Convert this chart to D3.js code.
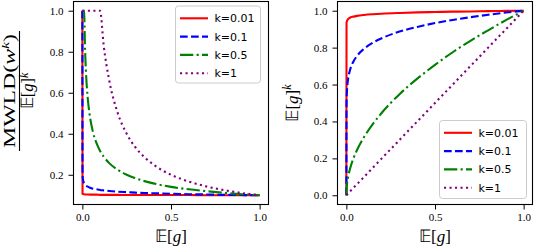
<!DOCTYPE html>
<html>
<head>
<meta charset="utf-8">
<script src="https://cdn.jsdelivr.net/npm/d3@7"></script>
<style>
  html, body { margin: 0; padding: 0; background: #fff; }
  svg { display: block; }
  .tick text { font-family: "Liberation Serif", serif; font-size: 11px; fill: #000; }
  .tick line, .domain { stroke: #000; }
  .math { font-family: "Liberation Serif", serif; fill: #000; }
  .leg { font-family: "DejaVu Sans", sans-serif; font-size: 11px; fill: #000; }
</style>
</head>
<body>
<svg id="chart" width="534" height="252"></svg>
<script>
// ---- data ----
const labels = ["k=0.01", "k=0.1", "k=0.5", "k=1"];

// left panel: MWLD(w^k) / E[g]^k
const xLeft = [0, 0.001, 0.003, 0.01, 0.015, 0.02, 0.03, 0.04, 0.06, 0.08, 0.1, 0.12, 0.15, 0.2, 0.25, 0.3, 0.35, 0.4, 0.5, 0.6, 0.7, 0.8, 0.9, 1.0];
const leftK001 = [1.0, 0.107, 0.106, 0.105, 0.104, 0.104, 0.104, 0.103, 0.103, 0.103, 0.102, 0.102, 0.102, 0.102, 0.101, 0.101, 0.101, 0.101, 0.101, 0.101, 0.100, 0.100, 0.100, 0.100];
const leftK01  = [1.0, 0.200, 0.179, 0.158, 0.152, 0.148, 0.142, 0.138, 0.132, 0.129, 0.126, 0.124, 0.121, 0.117, 0.115, 0.113, 0.111, 0.110, 0.107, 0.105, 0.104, 0.102, 0.101, 0.100];
const leftK05  = [1.0, 1.0, 1.0, 1.0, 0.816, 0.707, 0.577, 0.500, 0.408, 0.354, 0.316, 0.289, 0.258, 0.224, 0.200, 0.183, 0.169, 0.158, 0.141, 0.129, 0.120, 0.112, 0.105, 0.100];
const leftK1   = [1.0, 1.0, 1.0, 1.0, 1.0, 1.0, 1.0, 1.0, 1.0, 1.0, 1.0, 0.833, 0.667, 0.500, 0.400, 0.333, 0.286, 0.250, 0.200, 0.167, 0.143, 0.125, 0.111, 0.100];

// right panel: E[g]^k
const xRight = [0, 0.001, 0.003, 0.01, 0.02, 0.04, 0.06, 0.1, 0.15, 0.2, 0.3, 0.4, 0.5, 0.6, 0.7, 0.8, 0.9, 1.0];
const rightK001 = [0, 0.933, 0.943, 0.955, 0.962, 0.968, 0.972, 0.977, 0.981, 0.984, 0.988, 0.991, 0.993, 0.995, 0.996, 0.998, 0.999, 1.0];
const rightK01  = [0, 0.501, 0.559, 0.631, 0.676, 0.725, 0.755, 0.794, 0.827, 0.851, 0.887, 0.912, 0.933, 0.950, 0.965, 0.978, 0.990, 1.0];
const rightK05  = [0, 0.032, 0.055, 0.100, 0.141, 0.200, 0.245, 0.316, 0.387, 0.447, 0.548, 0.632, 0.707, 0.775, 0.837, 0.894, 0.949, 1.0];
const rightK1   = [0, 0.001, 0.003, 0.01, 0.02, 0.04, 0.06, 0.1, 0.15, 0.2, 0.3, 0.4, 0.5, 0.6, 0.7, 0.8, 0.9, 1.0];

const xTicks = [0, 0.5, 1.0];
const yTicksLeft = [0.2, 0.4, 0.6, 0.8, 1.0];
const yTicksRight = [0, 0.2, 0.4, 0.6, 0.8, 1.0];

// ---- styles ----
const styles = [
  {color: "#ff0000", dash: null},
  {color: "#0000ff", dash: "7.7,3.3"},
  {color: "#008000", dash: "13.3,3.3,2.1,3.3"},
  {color: "#800080", dash: "2.1,3.4"}
];

const svg = d3.select("#chart");

function panel(id, box, yDomain, yTicks, xs, series, legendPos) {
  const g = svg.append("g");
  const x = d3.scaleLinear().domain([-0.05, 1.05]).range([box.x0, box.x1]);
  const y = d3.scaleLinear().domain(yDomain).range([box.y1, box.y0]);

  g.append("clipPath").attr("id", id)
    .append("rect").attr("x", box.x0).attr("y", box.y0)
    .attr("width", box.x1 - box.x0).attr("height", box.y1 - box.y0);

  const line = d3.line().x(d => x(d[0])).y(d => y(d[1])).curve(d3.curveMonotoneX);

  series.forEach((vals, i) => {
    g.append("path")
      .datum(xs.map((v, j) => [v, vals[j]]))
      .attr("clip-path", `url(#${id})`)
      .attr("d", line)
      .attr("fill", "none")
      .attr("stroke", styles[i].color)
      .attr("stroke-width", 2.1)
      .attr("stroke-dasharray", styles[i].dash);
  });

  // frame
  g.append("rect")
    .attr("x", box.x0).attr("y", box.y0)
    .attr("width", box.x1 - box.x0).attr("height", box.y1 - box.y0)
    .attr("fill", "none").attr("stroke", "#000").attr("stroke-width", 1.1);

  g.append("g")
    .attr("transform", `translate(0,${box.y1})`)
    .call(d3.axisBottom(x).tickValues(xTicks).tickSize(5).tickPadding(4).tickFormat(d3.format(".1f")))
    .call(a => a.select(".domain").remove());

  g.append("g")
    .attr("transform", `translate(${box.x0},0)`)
    .call(d3.axisLeft(y).tickValues(yTicks).tickSize(5).tickPadding(5).tickFormat(d3.format(".1f")))
    .call(a => a.select(".domain").remove());

  // legend
  const lg = g.append("g").attr("transform", `translate(${legendPos.x},${legendPos.y})`);
  lg.append("rect")
    .attr("width", legendPos.w).attr("height", legendPos.h)
    .attr("rx", 3).attr("fill", "#fff").attr("fill-opacity", 0.8)
    .attr("stroke", "#cccccc").attr("stroke-width", 1);
  labels.forEach((lab, i) => {
    const yy = 12.3 + i * 18.3;
    lg.append("line")
      .attr("x1", 4.5).attr("x2", 32.5).attr("y1", yy).attr("y2", yy)
      .attr("stroke", styles[i].color).attr("stroke-width", 2.1)
      .attr("stroke-dasharray", styles[i].dash);
    lg.append("text").attr("class", "leg")
      .attr("x", 39).attr("y", yy).attr("dy", "0.36em").text(lab);
  });

  // x label
  const xl = g.append("text").attr("class", "math")
    .attr("x", (box.x0 + box.x1) / 2).attr("y", 242)
    .attr("text-anchor", "middle").style("font-size", "17px");
  xl.append("tspan").text("𝔼[");
  xl.append("tspan").style("font-style", "italic").text("g");
  xl.append("tspan").text("]");

  return {x, y};
}

panel("clipL", {x0: 73.5, x1: 268.5, y0: 1.5, y1: 204.5}, [0.055, 1.045], yTicksLeft,
  xLeft, [leftK001, leftK01, leftK05, leftK1], {x: 175.5, y: 6, w: 85, h: 77});

panel("clipR", {x0: 337.5, x1: 532.5, y0: 1.5, y1: 204.5}, [-0.05, 1.05], yTicksRight,
  xRight, [rightK001, rightK01, rightK05, rightK1], {x: 439.5, y: 120.5, w: 87, h: 78});

// E[g]^k as text with superscript
function egk(sel, sup) {
  sel.append("tspan").text("𝔼[");
  sel.append("tspan").style("font-style", "italic").text("g");
  sel.append("tspan").text("]");
  sel.append("tspan").style("font-style", "italic").style("font-size", "12px")
    .attr("dy", sup).text("k");
}

// right y label
const ry = svg.append("text").attr("class", "math")
  .attr("transform", "translate(298,103) rotate(-90)")
  .attr("text-anchor", "middle").style("font-size", "17px");
egk(ry, -7);

// left y label: fraction MWLD(w^k) / E[g]^k
const fr = svg.append("g").attr("transform", "translate(19.5,91) rotate(-90)");
const num = fr.append("text").attr("class", "math")
  .attr("x", 0).attr("y", -5).attr("text-anchor", "middle")
  .attr("textLength", 114).attr("lengthAdjust", "spacingAndGlyphs")
  .style("font-size", "16.5px");
num.append("tspan").text("MWLD(");
num.append("tspan").style("font-style", "italic").text("w");
num.append("tspan").style("font-style", "italic").style("font-size", "11px").attr("dy", "-6").text("k");
num.append("tspan").attr("dy", "6").text(")");
fr.append("line").attr("x1", -60).attr("x2", 60)
  .attr("y1", 0).attr("y2", 0).attr("stroke", "#000").attr("stroke-width", 1.1);
const den = fr.append("text").attr("class", "math")
  .attr("x", 0).attr("y", 13.5).attr("text-anchor", "middle").style("font-size", "16.5px");
egk(den, -5);
</script>
</body>
</html>
